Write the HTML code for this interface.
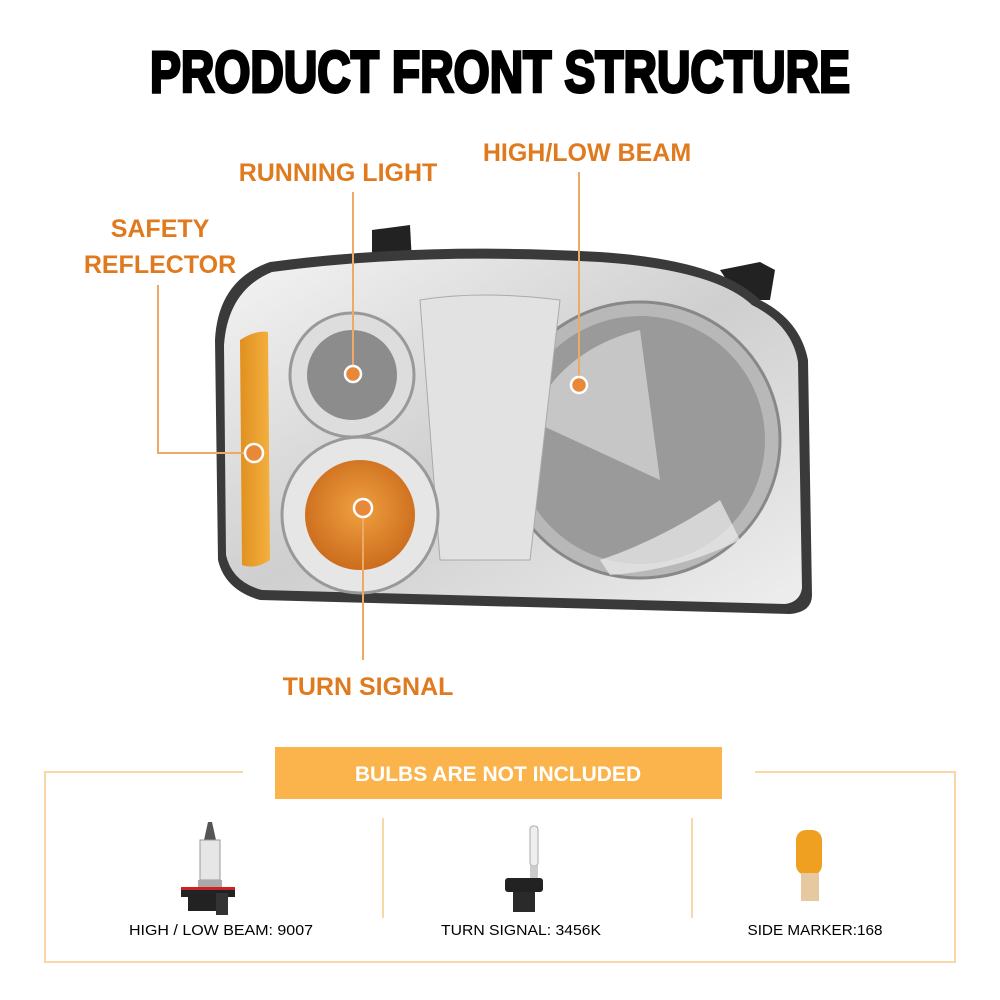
<!DOCTYPE html>
<html><head><meta charset="utf-8"><style>
body{margin:0;background:#fff;}
svg{display:block;font-family:"Liberation Sans",sans-serif;}
</style></head><body>
<svg width="1000" height="1000" viewBox="0 0 1000 1000">
<defs>
<linearGradient id="chrome" x1="0" y1="0" x2="1" y2="1">
<stop offset="0" stop-color="#f4f4f4"/><stop offset="0.5" stop-color="#cfcfcf"/><stop offset="1" stop-color="#eeeeee"/></linearGradient>
<radialGradient id="amb" cx="0.5" cy="0.45" r="0.6"><stop offset="0" stop-color="#f0a040"/><stop offset="1" stop-color="#c8681a"/></radialGradient>
<linearGradient id="amb2" x1="0" y1="0" x2="1" y2="0"><stop offset="0" stop-color="#e0901e"/><stop offset="1" stop-color="#f4b040"/></linearGradient>
</defs>
<text x="500" y="92" text-anchor="middle" font-size="58" font-weight="bold" fill="#000" textLength="700" lengthAdjust="spacingAndGlyphs" stroke="#000" stroke-width="3">PRODUCT FRONT STRUCTURE</text>

<path d="M372 230 L410 225 L412 262 L372 262 Z" fill="#222"/>
<path d="M720 270 L760 262 L775 270 L770 300 L740 300 Z" fill="#222"/>
<path d="M270 262 Q420 242 600 252 Q720 260 760 300 Q800 320 808 360 L812 595 Q812 612 790 614 L260 600 Q225 590 218 560 L215 340 Q218 280 270 262 Z" fill="#3a3a3a"/>
<path d="M272 272 Q420 252 600 262 Q715 270 752 305 Q792 325 798 362 L802 588 Q800 602 785 604 L262 590 Q232 582 226 555 L224 345 Q228 290 272 272 Z" fill="url(#chrome)"/>
<path d="M240 340 Q255 330 268 332 L270 560 Q255 570 242 565 Z" fill="url(#amb2)"/>
<ellipse cx="640" cy="440" rx="140" ry="138" fill="#b8b8b8" stroke="#888" stroke-width="3"/>
<ellipse cx="640" cy="440" rx="125" ry="124" fill="#9a9a9a"/>
<path d="M530 420 Q560 350 640 330 L660 480 Z" fill="#d8d8d8" opacity="0.7"/>
<path d="M600 560 Q660 540 720 500 L740 540 Q680 570 610 575 Z" fill="#eee" opacity="0.7"/>
<path d="M420 300 Q480 290 560 300 L530 560 L440 560 Z" fill="#e2e2e2" stroke="#aaa"/>
<circle cx="352" cy="375" r="62" fill="#ddd" stroke="#999" stroke-width="3"/>
<circle cx="352" cy="375" r="45" fill="#8c8c8c"/>
<circle cx="360" cy="515" r="78" fill="#e6e6e6" stroke="#999" stroke-width="3"/>
<circle cx="360" cy="515" r="55" fill="url(#amb)"/>

<g stroke="#f0a868" stroke-width="2" fill="none">
<line x1="353" y1="192" x2="353" y2="374"/>
<line x1="579" y1="172" x2="579" y2="385"/>
<polyline points="158,285 158,453 254,453"/>
<line x1="363" y1="508" x2="363" y2="660"/>
</g>
<g fill="#e8893a" stroke="#fff" stroke-width="2.5">
<circle cx="353" cy="374" r="8"/><circle cx="579" cy="385" r="8"/>
<circle cx="254" cy="453" r="9"/><circle cx="363" cy="508" r="9"/>
</g>
<g fill="#e07a1f" font-size="25" font-weight="bold" text-anchor="middle">
<text x="338" y="181">RUNNING LIGHT</text>
<text x="587" y="161">HIGH/LOW BEAM</text>
<text x="160" y="237">SAFETY</text>
<text x="160" y="273">REFLECTOR</text>
<text x="368" y="695">TURN SIGNAL</text>
</g>

<g stroke="#f9d7a6" stroke-width="2" fill="none">
<polyline points="243,772 45,772 45,962 955,962 955,772 755,772"/>
<line x1="383" y1="818" x2="383" y2="918"/>
<line x1="692" y1="818" x2="692" y2="918"/>
</g>
<rect x="275" y="747" width="447" height="52" fill="#fbb44c"/>
<text x="498" y="781" text-anchor="middle" font-size="21" font-weight="bold" fill="#fff">BULBS ARE NOT INCLUDED</text>

<path d="M208 822 L212 822 L216 840 L216 880 L204 880 L204 840 Z" fill="#555"/>
<rect x="200" y="840" width="20" height="40" fill="#e6e6e6" stroke="#999"/>
<rect x="198" y="880" width="24" height="8" fill="#aaa"/>
<rect x="181" y="887" width="54" height="10" fill="#222"/><rect x="181" y="887" width="54" height="3" fill="#c22"/>
<rect x="188" y="897" width="30" height="14" fill="#222"/><rect x="216" y="893" width="12" height="22" fill="#333"/>
<rect x="530" y="826" width="8" height="40" rx="3" fill="#eee" stroke="#aaa"/>
<rect x="530" y="866" width="8" height="12" fill="#ccc"/>
<rect x="505" y="878" width="38" height="14" rx="3" fill="#222"/>
<rect x="513" y="892" width="22" height="20" fill="#2a2a2a"/>
<rect x="796" y="830" width="26" height="45" rx="10" fill="#f0a020"/>
<rect x="801" y="873" width="18" height="28" fill="#e6c9a0"/>
<g fill="#000" font-size="15" text-anchor="middle">
<text x="221" y="935" textLength="184" lengthAdjust="spacingAndGlyphs">HIGH / LOW BEAM: 9007</text>
<text x="521" y="935" textLength="160" lengthAdjust="spacingAndGlyphs">TURN SIGNAL: 3456K</text>
<text x="815" y="935" textLength="135" lengthAdjust="spacingAndGlyphs">SIDE MARKER:168</text>
</g>
</svg>
</body></html>
